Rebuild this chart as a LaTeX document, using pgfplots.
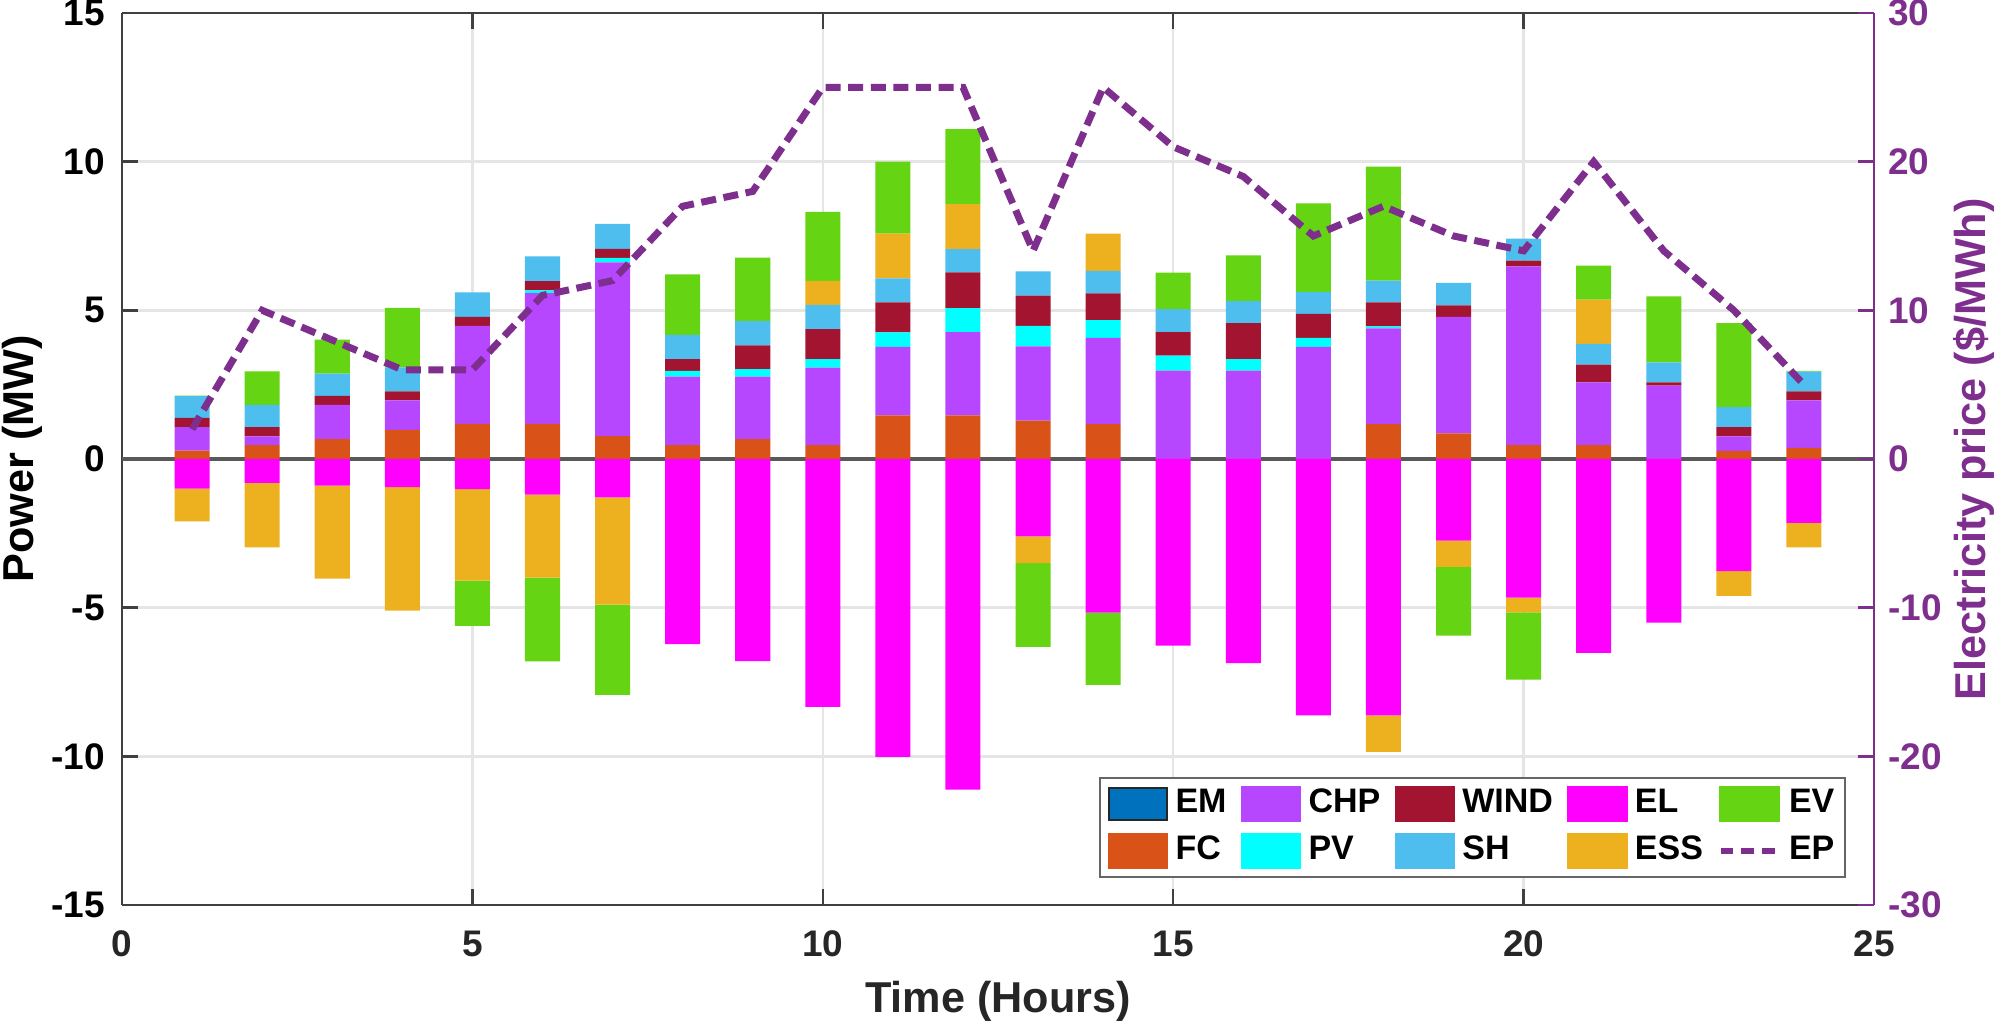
\documentclass[border=0pt]{standalone}
\usepackage{fontspec}
\setmainfont{Liberation Sans}
\usepackage{pgfplots}
\usepackage{pgfplotstable}
\pgfplotsset{compat=1.18}

\definecolor{cEM}{HTML}{0072BD}
\definecolor{cFC}{HTML}{D95319}
\definecolor{cCHP}{HTML}{B746FF}
\definecolor{cPV}{HTML}{00FFFF}
\definecolor{cWIND}{HTML}{A2142F}
\definecolor{cSH}{HTML}{4DBEEE}
\definecolor{cEL}{HTML}{FF00FF}
\definecolor{cESS}{HTML}{EDB120}
\definecolor{cEV}{HTML}{64D413}
\definecolor{cEP}{HTML}{7E2F8E}

\pgfplotstableread{
h  FC   CHP  PV   WIND SH   ESSp EVp  EL     ESSn  EVn   EP
1  0.28 0.79 0    0.31 0.73 0    0.02 -1.00  -1.10 0     2
2  0.47 0.29 0    0.31 0.75 0    1.13 -0.80  -2.17 0     10
3  0.67 1.15 0    0.30 0.75 0    1.14 -0.90  -3.12 0     8
4  0.98 0.99 0    0.30 0.81 0    2.00 -0.95  -4.15 0     6
5  1.18 3.30 0    0.30 0.82 0    0    -1.01  -3.08 -1.52 6
6  1.18 4.40 0.09 0.31 0.83 0    0    -1.20  -2.79 -2.82 11
7  0.77 5.84 0.15 0.31 0.84 0    0    -1.29  -3.61 -3.03 12
8  0.47 2.30 0.19 0.40 0.81 0    2.04 -6.23  0     0     17
9  0.67 2.10 0.25 0.80 0.82 0    2.13 -6.80  0     0     18
10 0.47 2.60 0.29 1.01 0.81 0.81 2.32 -8.34  0     0     25
11 1.47 2.30 0.49 1.01 0.80 1.51 2.42 -10.02 0     0     25
12 1.47 2.80 0.80 1.21 0.78 1.51 2.52 -11.12 0     0     25
13 1.29 2.50 0.69 1.01 0.82 0    0    -2.60  -0.90 -2.82 14
14 1.17 2.90 0.60 0.90 0.76 1.25 0    -5.17  0     -2.43 25
15 0    2.97 0.51 0.79 0.77 0    1.23 -6.28  0     0     21
16 0    2.97 0.39 1.21 0.74 0    1.54 -6.87  0     0     19
17 0    3.77 0.30 0.81 0.73 0    2.99 -8.62  0     0     15
18 1.17 3.22 0.07 0.81 0.73 0    3.83 -8.62  -1.23 0     17
19 0.86 3.92 0    0.39 0.75 0    0    -2.75  -0.88 -2.31 15
20 0.47 6.01 0    0.19 0.74 0    0    -4.66  -0.50 -2.26 14
21 0.47 2.11 0    0.59 0.70 1.49 1.14 -6.52  0     0     20
22 0    2.47 0    0.11 0.67 0    2.22 -5.50  0     0     14
23 0.27 0.49 0    0.31 0.67 0    2.83 -3.77  -0.83 0     10
24 0.37 1.60 0    0.30 0.67 0    0.02 -2.15  -0.82 0     5
}\data

\tikzset{
  tickfont/.style={font=\bfseries\fontsize{9.25}{10}\selectfont},
  labfont/.style={font=\bfseries\fontsize{10.8}{12}\selectfont},
}
\pgfplotsset{
  base/.style={width=438pt, height=223pt, scale only axis,
    xmin=0, xmax=25, at={(0,0)}, anchor=south west,
    /pgf/number format/assume math mode=true},
}

\begin{document}
\begin{tikzpicture}

% main axis: positive stacks, grid, box
\begin{axis}[base,
  ymin=-15, ymax=15,
  ybar stacked, bar width=0.5,
  xtick={0,5,...,25}, ytick={-15,-10,...,15},
  grid=major, major grid style={draw=black!10, line width=0.6pt},
  axis x line*=box, axis y line*=left,
  tick align=inside, major tick length=4pt,
  axis line style={draw=black!75, line width=0.6pt},
  tick style={draw=black!75, line width=0.6pt},
  xticklabel style={tickfont, text=black!85, anchor=center, yshift=-9.75pt},
  yticklabel style={tickfont, text=black, xshift=-0.8pt},
  extra y ticks={0}, extra y tick labels={},
  extra y tick style={major grid style={draw=black!65, line width=0.8pt}, major tick length=0pt},
  xlabel={Time (Hours)}, ylabel={Power (MW)},
  xlabel style={labfont, text=black!85, at={(axis description cs:0.5,-0.108)}, anchor=center},
  ylabel style={labfont, text=black, at={(axis description cs:-0.057,0.5)}, anchor=center},
]
\addplot[fill=cFC, draw=none] table[x=h, y=FC]{\data};
\addplot[fill=cCHP, draw=none] table[x=h, y=CHP]{\data};
\addplot[fill=cPV, draw=none] table[x=h, y=PV]{\data};
\addplot[fill=cWIND, draw=none] table[x=h, y=WIND]{\data};
\addplot[fill=cSH, draw=none] table[x=h, y=SH]{\data};
\addplot[fill=cESS, draw=none] table[x=h, y=ESSp]{\data};
\addplot[fill=cEV, draw=none] table[x=h, y=EVp]{\data};
\end{axis}

% negative stacks
\begin{axis}[base,
  ymin=-15, ymax=15,
  ybar stacked, bar width=0.5,
  hide axis,
]
\addplot[fill=cEL, draw=none] table[x=h, y=EL]{\data};
\addplot[fill=cESS, draw=none] table[x=h, y=ESSn]{\data};
\addplot[fill=cEV, draw=none] table[x=h, y=EVn]{\data};
\end{axis}

% right axis: electricity price
\begin{axis}[base,
  ymin=-30, ymax=30,
  axis x line=none, axis y line*=right,
  ytick={-30,-20,...,30},
  tick align=inside, major tick length=4pt,
  axis line style={draw=cEP, line width=0.6pt},
  tick style={draw=cEP, line width=0.6pt},
  yticklabel style={tickfont, text=cEP},
  ylabel={Electricity price (\$/MWh)},
  ylabel style={labfont, text=cEP, at={(axis description cs:1.057,0.511)}, anchor=center},
  legend columns=5,
  legend cell align=left,
  legend style={at={(0.984,0.030)}, anchor=south east,
    draw=black!60, line width=0.6pt, fill=white,
    font=\bfseries\fontsize{8.5}{10}\selectfont,
    nodes={inner sep=0.6pt},
    inner xsep=2pt, inner ysep=2pt,
    row sep=2.6pt,
    /tikz/every odd column/.append style={column sep=1.2pt},
    /tikz/every even column/.append style={column sep=3pt}},
]
\addplot[cEP, line width=1.75pt, dash pattern=on 3.75pt off 1.9pt, forget plot] table[x=h, y=EP]{\data};

\addlegendimage{legend image code/.code={\draw[fill=cEM, draw=black!85, line width=0.5pt] (0pt,-4.1pt) rectangle (14.5pt,4.1pt);}}
\addlegendentry{EM}
\addlegendimage{legend image code/.code={\fill[cCHP] (0pt,-4.25pt) rectangle (14.5pt,4.25pt);}}
\addlegendentry{CHP}
\addlegendimage{legend image code/.code={\fill[cWIND] (0pt,-4.25pt) rectangle (14.5pt,4.25pt);}}
\addlegendentry{WIND}
\addlegendimage{legend image code/.code={\fill[cEL] (0pt,-4.25pt) rectangle (14.5pt,4.25pt);}}
\addlegendentry{EL}
\addlegendimage{legend image code/.code={\fill[cEV] (0pt,-4.25pt) rectangle (14.5pt,4.25pt);}}
\addlegendentry{EV}
\addlegendimage{legend image code/.code={\fill[cFC] (0pt,-4.25pt) rectangle (14.5pt,4.25pt);}}
\addlegendentry{FC}
\addlegendimage{legend image code/.code={\fill[cPV] (0pt,-4.25pt) rectangle (14.5pt,4.25pt);}}
\addlegendentry{PV}
\addlegendimage{legend image code/.code={\fill[cSH] (0pt,-4.25pt) rectangle (14.5pt,4.25pt);}}
\addlegendentry{SH}
\addlegendimage{legend image code/.code={\fill[cESS] (0pt,-4.25pt) rectangle (14.5pt,4.25pt);}}
\addlegendentry{ESS}
\addlegendimage{legend image code/.code={\draw[cEP, line width=1.6pt, dash pattern=on 3.2pt off 2pt] (0pt,0pt) -- (14.5pt,0pt);}}
\addlegendentry{EP}
\end{axis}

\pgfresetboundingbox
\path[use as bounding box] (-30.5pt,-29.5pt) rectangle (471.5pt,226.25pt);
\end{tikzpicture}
\end{document}
